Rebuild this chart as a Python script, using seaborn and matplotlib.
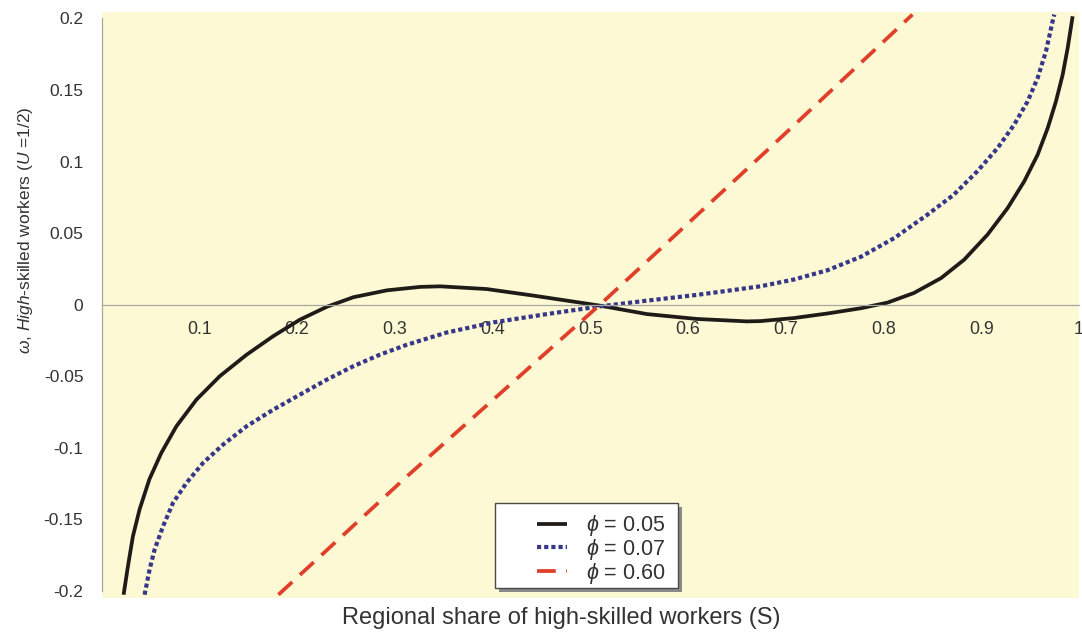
import matplotlib
matplotlib.use("Agg")
import matplotlib.pyplot as plt
from matplotlib.patches import Rectangle
import numpy as np
import pandas as pd
import seaborn as sns

# Wage differential omega against the regional share S, for three trade freeness levels
phi_labels = [r"$\phi$ = 0.05", r"$\phi$ = 0.07", r"$\phi$ = 0.60"]

share_phi005 = [0.0226, 0.027, 0.0321, 0.039, 0.049, 0.0612, 0.0766, 0.0971, 0.121, 0.1484,
                0.1757, 0.203, 0.2305, 0.2577, 0.292, 0.326, 0.3463, 0.394, 0.442, 0.483,
                0.510, 0.558, 0.609, 0.660, 0.674, 0.708, 0.7425, 0.777, 0.804, 0.831,
                0.859, 0.8825, 0.9064, 0.927, 0.944, 0.9577, 0.968, 0.9764, 0.9833, 0.9884,
                0.9935]
omega_phi005 = [-0.2027, -0.183, -0.162, -0.143, -0.122, -0.1036, -0.085, -0.0664, -0.050, -0.035,
                -0.022, -0.0105, -0.0015, 0.0052, 0.0100, 0.0124, 0.0128, 0.0109, 0.0063, 0.0021,
                -0.0007, -0.0066, -0.0100, -0.0117, -0.0115, -0.0094, -0.0062, -0.0025, 0.0014, 0.0081,
                0.0186, 0.0314, 0.0489, 0.0675, 0.0862, 0.1048, 0.1234, 0.142, 0.1607, 0.1793,
                0.2015]

share_phi007 = [0.0441, 0.0492, 0.0544, 0.0629, 0.0731, 0.0869, 0.1039, 0.1244, 0.1484, 0.1757,
                0.203, 0.2305, 0.2577, 0.285, 0.3125, 0.353, 0.401, 0.4556, 0.510, 0.558,
                0.609, 0.660, 0.674, 0.708, 0.7425, 0.777, 0.811, 0.845, 0.872, 0.896,
                0.9167, 0.9337, 0.9474, 0.9577, 0.9662, 0.973, 0.9747]
omega_phi007 = [-0.2027, -0.185, -0.171, -0.155, -0.1386, -0.1246, -0.1106, -0.0978, -0.085, -0.0734,
                -0.0629, -0.0524, -0.043, -0.0349, -0.0280, -0.0195, -0.0124, -0.0066, -0.0012, 0.0028,
                0.0068, 0.0115, 0.0128, 0.0175, 0.0240, 0.0335, 0.0465, 0.0629, 0.0769, 0.0932,
                0.1094, 0.1258, 0.142, 0.1584, 0.177, 0.198, 0.2027]

share_phi060 = [0.181, 0.3125, 0.510, 0.686, 0.8296]
omega_phi060 = [-0.2027, -0.120, 0.0, 0.111, 0.2027]

x_ticks = [0.1, 0.2, 0.3, 0.4, 0.5, 0.6, 0.7, 0.8, 0.9, 1.0]
x_ticklabels = ["0.1", "0.2", "0.3", "0.4", "0.5", "0.6", "0.7", "0.8", "0.9", "1"]
y_ticks = [-0.2, -0.15, -0.1, -0.05, 0.0, 0.05, 0.1, 0.15, 0.2]
y_ticklabels = ["-0.2", "-0.15", "-0.1", "-0.05", "0", "0.05", "0.1", "0.15", "0.2"]

line_colors = {phi_labels[0]: "#1f1b18", phi_labels[1]: "#36368a", phi_labels[2]: "#e0402a"}
line_dashes = {phi_labels[0]: "", phi_labels[1]: (1.0, 0.72), phi_labels[2]: (5.0, 2.8)}
line_widths = {phi_labels[0]: 2.7, phi_labels[1]: 3.0, phi_labels[2]: 2.7}

df = pd.concat([
    pd.DataFrame({"S": share_phi005, "omega": omega_phi005, "phi": phi_labels[0]}),
    pd.DataFrame({"S": share_phi007, "omega": omega_phi007, "phi": phi_labels[1]}),
    pd.DataFrame({"S": share_phi060, "omega": omega_phi060, "phi": phi_labels[2]}),
], ignore_index=True)

sns.set_theme(style="white")
plt.rcParams["font.family"] = ["Liberation Sans", "DejaVu Sans"]
plt.rcParams["mathtext.fontset"] = "custom"
plt.rcParams["mathtext.rm"] = "Liberation Sans"
plt.rcParams["mathtext.it"] = "Liberation Sans:italic"
plt.rcParams["mathtext.fallback"] = "cm"

W, H = 1082, 638
text_color = "#333333"
axis_color = "#a8a8a0"

fig = plt.figure(figsize=(W / 100, H / 100), dpi=100)
fig.patch.set_facecolor("white")
ax = fig.add_axes([101.5 / W, 1 - 598 / H, (1079 - 101.5) / W, (598 - 12) / H])
ax.set_facecolor("#fcf9d4")

sns.lineplot(data=df, x="S", y="omega", hue="phi", style="phi",
             palette=line_colors, dashes=line_dashes, estimator=None, sort=False,
             legend=False, ax=ax)
for line, lab in zip(ax.lines, phi_labels):
    line.set_linewidth(line_widths[lab])
    line.set_solid_capstyle("butt")
    line.set_solid_joinstyle("round")
    line.set_dash_capstyle("butt")

ax.set_xlim(0, 1.0)
ax.set_ylim(-0.205, 0.2045)

for side in ["top", "right"]:
    ax.spines[side].set_visible(False)
ax.spines["bottom"].set_position(("data", 0))
ax.spines["left"].set_bounds(-0.2, 0.2)
for side in ["bottom", "left"]:
    ax.spines[side].set_color(axis_color)
    ax.spines[side].set_linewidth(0.9)

ax.set_xticks(x_ticks)
ax.set_xticklabels(x_ticklabels)
ax.set_yticks(y_ticks)
ax.set_yticklabels(y_ticklabels)
ax.tick_params(axis="x", direction="inout", length=5, width=0.8, color=axis_color,
               labelsize=12.8, labelcolor=text_color, pad=9)
ax.tick_params(axis="y", direction="out", length=4, width=0.8, color=axis_color,
               labelsize=12.5, labelcolor=text_color, pad=9)

ax.set_xlabel("")
ax.set_ylabel("")
fig.text(561 / W, 1 - 618 / H, "Regional share of high-skilled workers (S)",
         ha="center", va="center", fontsize=17, color=text_color)
fig.text(26 / W, 1 - 230 / H, r"$\omega$, $\mathit{High}$-skilled workers ($\mathit{U}$ =1/2)",
         ha="center", va="center", rotation=90, fontsize=12.5, color=text_color)

# Legend frame with a drop shadow, then the legend entries inside it
bx0, bx1, by0, by1 = 495, 678, 503, 588
fig.patches.append(Rectangle(((bx0 + 4) / W, 1 - (by1 + 4) / H), (bx1 - bx0) / W, (by1 - by0) / H,
                             transform=fig.transFigure, facecolor="#8a8a8a", edgecolor="none",
                             zorder=5))
fig.patches.append(Rectangle((bx0 / W, 1 - by1 / H), (bx1 - bx0) / W, (by1 - by0) / H,
                             transform=fig.transFigure, facecolor="white", edgecolor="#4a4a4a",
                             linewidth=1.0, zorder=6))
leg = fig.legend(ax.lines, phi_labels, loc="upper left",
                 bbox_to_anchor=(522 / W, 1 - 498 / H), bbox_transform=fig.transFigure,
                 frameon=False, fontsize=15.5, handlelength=1.4, handletextpad=0.85,
                 labelspacing=-0.05, borderpad=0.2)
leg.set_zorder(7)
for t in leg.get_texts():
    t.set_color(text_color)

fig.savefig("out.png", dpi=100)
